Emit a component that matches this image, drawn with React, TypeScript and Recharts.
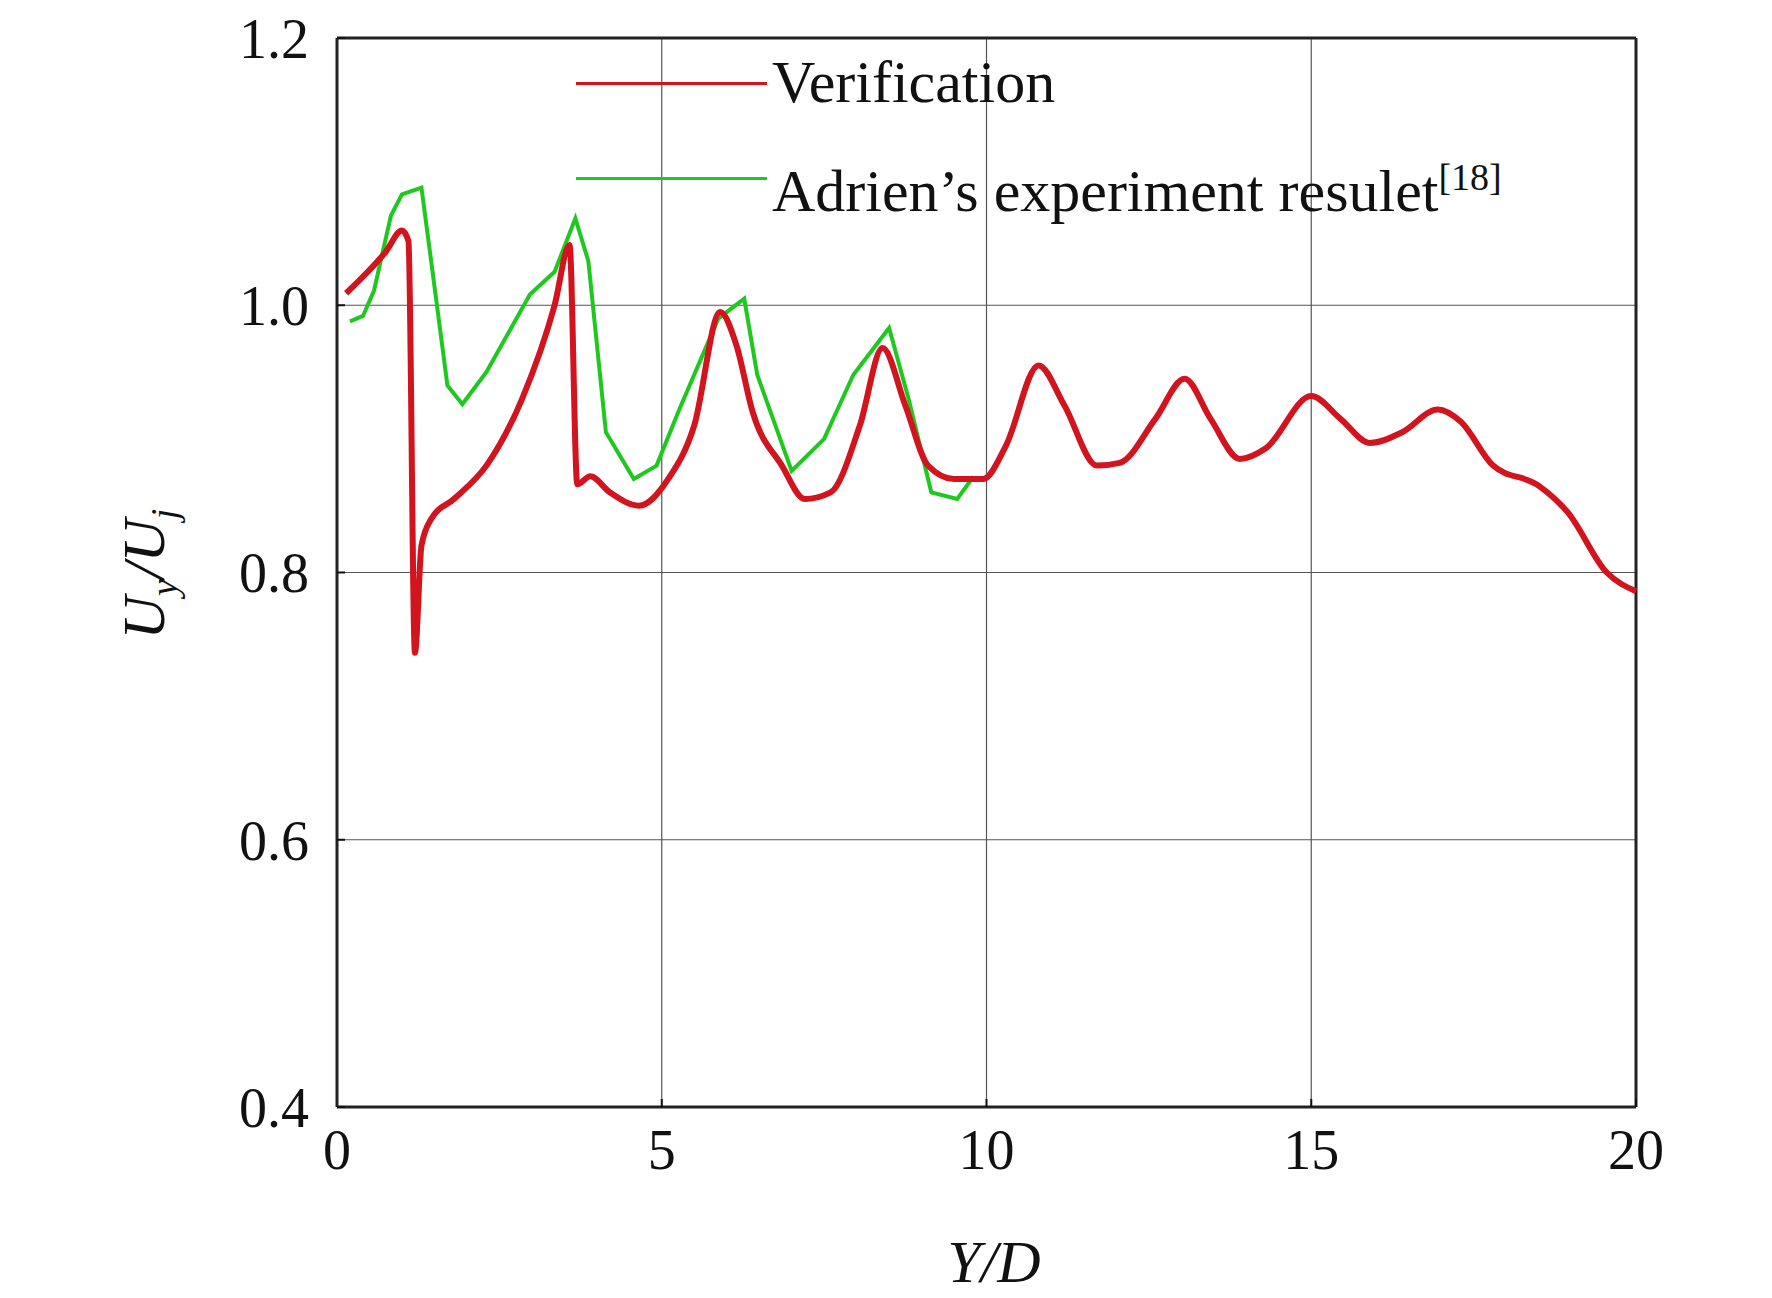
import React from "react";
import { LineChart, Line, XAxis, YAxis, CartesianGrid, ReferenceLine } from "recharts";

const verificationX = [0.14, 0.75, 1.0, 1.1, 1.2, 1.3, 1.45, 1.8, 2.3, 2.85, 3.35, 3.58, 3.7, 3.9, 4.2, 4.65, 5.1, 5.5, 5.9, 6.15, 6.4, 6.85, 7.2, 7.6, 8.05, 8.4, 8.75, 9.1, 9.5, 9.95, 10.3, 10.8, 11.2, 11.7, 12.05, 12.6, 13.05, 13.45, 13.9, 14.3, 15.0, 15.45, 15.9, 16.4, 16.95, 17.3, 17.8, 18.5, 18.95, 19.55, 20];
const verificationY = [1.009, 1.04, 1.056, 1.048, 0.74, 0.82, 0.84, 0.855, 0.88, 0.93, 1.0, 1.045, 0.866, 0.872, 0.86, 0.85, 0.87, 0.91, 0.995, 0.97, 0.92, 0.88, 0.855, 0.86, 0.91, 0.968, 0.925, 0.88, 0.87, 0.87, 0.895, 0.955, 0.925, 0.88, 0.882, 0.915, 0.945, 0.915, 0.885, 0.893, 0.932, 0.915, 0.897, 0.905, 0.922, 0.913, 0.88, 0.865, 0.845, 0.8, 0.786];
const experimentX = [0.2, 0.4, 0.57, 0.83, 1.0, 1.3, 1.45, 1.7, 1.93, 2.3, 2.97, 3.35, 3.67, 3.87, 4.14, 4.57, 4.92, 5.27, 5.87, 6.27, 6.47, 7.0, 7.5, 7.95, 8.5, 8.8, 9.15, 9.55, 9.8];
const experimentY = [0.988, 0.992, 1.011, 1.067, 1.083, 1.088, 1.033, 0.94, 0.926, 0.95, 1.008, 1.025, 1.065, 1.033, 0.905, 0.87, 0.88, 0.922, 0.99, 1.005, 0.948, 0.876, 0.9, 0.948, 0.983, 0.93, 0.86, 0.855, 0.872];
const xTicks = [0, 5, 10, 15, 20];
const yTicks = [0.4, 0.6, 0.8, 1.0, 1.2];

const verification = verificationX.map((x, i) => ({ x, v: verificationY[i] }));
const experiment = experimentX.map((x, i) => ({ x, e: experimentY[i] }));

const font = "'Liberation Serif', 'Times New Roman', serif";
const tick = { fontSize: 56, fill: "#111", fontFamily: font };

export default function App() {
  return (
    <div style={{ position: "absolute", left: 0, top: 0, width: 1772, height: 1298, background: "#fff", fontFamily: font }}>
      <LineChart width={1772} height={1298} margin={{ top: 38, right: 136, left: 237, bottom: 91 }}>
        <CartesianGrid stroke="#555" strokeWidth={1.2} vertical horizontal />
        <XAxis type="number" dataKey="x" domain={[0, 20]} ticks={xTicks} allowDuplicatedCategory={false}
          tick={tick} tickLine={{ stroke: "#111", strokeWidth: 2 }} tickSize={-8} tickMargin={30}
          axisLine={{ stroke: "#222", strokeWidth: 3 }} height={100}
          tickFormatter={(v: number) => String(v)} />
        <YAxis type="number" domain={[0.4, 1.2]} ticks={yTicks} tick={tick}
          tickLine={{ stroke: "#111", strokeWidth: 2 }} tickSize={-8} tickMargin={36}
          axisLine={{ stroke: "#222", strokeWidth: 3 }} width={100}
          tickFormatter={(v: number) => v.toFixed(1)} />
        <ReferenceLine y={1.2} stroke="#222" strokeWidth={3} />
        <ReferenceLine x={20} stroke="#222" strokeWidth={3} />
        <Line data={experiment} dataKey="e" stroke="#1ec81e" strokeWidth={4} dot={false} isAnimationActive={false} type="linear" />
        <Line data={verification} dataKey="v" stroke="#d2141e" strokeWidth={6} dot={false} isAnimationActive={false} type="monotone" />
      </LineChart>
      <div style={{ position: "absolute", left: 576, top: 82, width: 191, height: 3, background: "#d2141e" }} />
      <div style={{ position: "absolute", left: 772, top: 52, fontSize: 60, lineHeight: "60px", color: "#111" }}>Verification</div>
      <div style={{ position: "absolute", left: 576, top: 177, width: 191, height: 3, background: "#1ec81e" }} />
      <div style={{ position: "absolute", left: 772, top: 147, fontSize: 60, lineHeight: "60px", color: "#111", whiteSpace: "nowrap" }}>
        Adrien’s experiment resulet<sup style={{ fontSize: 38 }}>[18]</sup>
      </div>
      <div style={{ position: "absolute", left: 148, top: 574, transform: "translate(-50%,-50%) rotate(-90deg)", fontSize: 60, fontStyle: "italic", whiteSpace: "nowrap", color: "#111" }}>
        U<sub style={{ fontSize: 38 }}>y</sub>/U<sub style={{ fontSize: 38 }}>j</sub>
      </div>
      <div style={{ position: "absolute", left: 994, top: 1262, transform: "translate(-50%,-50%)", fontSize: 60, fontStyle: "italic", color: "#111" }}>Y/D</div>
    </div>
  );
}
